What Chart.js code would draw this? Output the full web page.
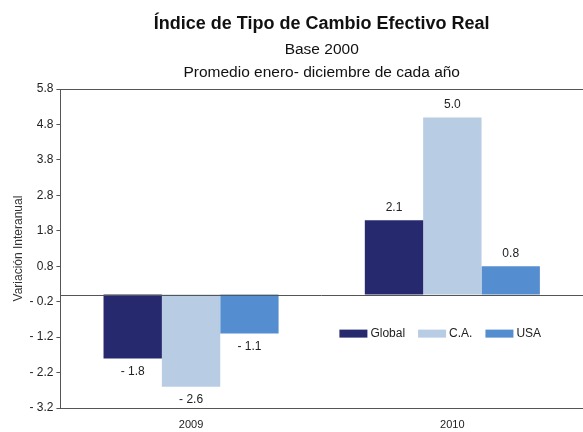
<!DOCTYPE html>
<html>
<head>
  <title>Indice de Tipo de Cambio Efectivo Real</title>
  <script src="https://cdn.jsdelivr.net/npm/chart.js@4.4.0/dist/chart.umd.min.js"></script>
  <style>
    body { margin: 0; background: #fff; }
    .chart-container { position: relative; width: 583px; height: 432px; }
  </style>
</head>
<body>
  <div class="chart-container">
    <canvas id="chart" width="583" height="432"></canvas>
  </div>

  <script>
    // Data
    var years = ["2009", "2010"];
    var globalVals = [-1.8, 2.1];
    var caVals = [-2.6, 5.0];
    var usaVals = [-1.1, 0.8];
    var yTicks = [-3.2, -2.2, -1.2, -0.2, 0.8, 1.8, 2.8, 3.8, 4.8, 5.8];

    var textColor = "#222";
    var lineColor = "#555";

    function fmt(v) {
      var s = v.toFixed(1);
      return v < 0 ? "- " + s.slice(1) : s;
    }

    // zero line across the plot
    var zeroLine = {
      id: "zeroLine",
      afterDatasetsDraw: function(chart) {
        var ctx = chart.ctx;
        var y = Math.round(chart.scales.y.getPixelForValue(0)) + 0.5;
        ctx.save();
        ctx.strokeStyle = lineColor;
        ctx.lineWidth = 1;
        ctx.beginPath();
        ctx.moveTo(chart.chartArea.left, y);
        ctx.lineTo(chart.chartArea.right, y);
        ctx.stroke();
        ctx.restore();
      }
    };

    // value labels above / below bars
    var valueLabels = {
      id: "valueLabels",
      afterDatasetsDraw: function(chart) {
        var ctx = chart.ctx;
        ctx.save();
        ctx.font = "12px 'Liberation Sans', Arial, sans-serif";
        ctx.fillStyle = textColor;
        ctx.textAlign = "center";
        ctx.textBaseline = "middle";
        chart.data.datasets.forEach(function(ds, i) {
          chart.getDatasetMeta(i).data.forEach(function(bar, j) {
            var v = ds.data[j];
            var y = v >= 0 ? bar.y - 13 : bar.y + 13;
            ctx.fillText(fmt(v), bar.x, y);
          });
        });
        ctx.restore();
      }
    };

    // legend drawn inside the plot area
    var innerLegend = {
      id: "innerLegend",
      afterDraw: function(chart) {
        var ctx = chart.ctx;
        var x = chart.chartArea.left + 279;
        var y = chart.scales.y.getPixelForValue(0) + 39;
        ctx.save();
        ctx.font = "12px 'Liberation Sans', Arial, sans-serif";
        ctx.textBaseline = "middle";
        chart.data.datasets.forEach(function(ds) {
          ctx.fillStyle = ds.backgroundColor;
          ctx.fillRect(x, y - 4, 28, 8);
          ctx.fillStyle = textColor;
          ctx.fillText(ds.label, x + 31, y);
          x += 31 + ctx.measureText(ds.label).width + 13;
        });
        ctx.restore();
      }
    };

    var ctx = document.getElementById("chart").getContext("2d");
    var chart = new Chart(ctx, {
      type: "bar",
      data: {
        labels: years,
        datasets: [
          { label: "Global", data: globalVals, backgroundColor: "#27296F" },
          { label: "C.A.", data: caVals, backgroundColor: "#B8CCE4" },
          { label: "USA", data: usaVals, backgroundColor: "#558ED0" }
        ]
      },
      options: {
        responsive: false,
        animation: false,
        maintainAspectRatio: false,
        devicePixelRatio: 1,
        layout: { padding: { left: 11, right: 0, top: 13, bottom: 0 } },
        datasets: {
          bar: { categoryPercentage: 0.67, barPercentage: 1.0 }
        },
        plugins: {
          legend: { display: false },
          tooltip: { enabled: false },
          title: {
            display: true,
            fullSize: false,
            text: "Índice de Tipo de Cambio Efectivo Real",
            color: "#111",
            font: { family: "'Liberation Sans', Arial", size: 18, weight: "bold", lineHeight: 1.2 },
            padding: { top: 0, bottom: 0 }
          },
          subtitle: {
            display: true,
            fullSize: false,
            text: ["Base 2000", "Promedio enero- diciembre de cada año"],
            color: "#111",
            font: { family: "'Liberation Sans', Arial", size: 15.5, lineHeight: 1.5 },
            padding: { top: 3, bottom: 5 }
          }
        },
        scales: {
          x: {
            grid: { display: false },
            border: { display: true, color: lineColor, width: 1 },
            ticks: { color: textColor, font: { family: "'Liberation Sans', Arial", size: 11 }, padding: 2 },
            afterFit: function(axis) { axis.height = 24; }
          },
          y: {
            min: -3.2,
            max: 5.8,
            afterBuildTicks: function(axis) {
              axis.ticks = yTicks.map(function(v) { return { value: v }; });
            },
            grid: {
              drawOnChartArea: true,
              tickLength: 4,
              tickColor: lineColor,
              color: function(c) {
                return c.tick && c.tick.value === 5.8 ? lineColor : "rgba(0,0,0,0)";
              }
            },
            border: { display: true, color: lineColor, width: 1 },
            ticks: {
              color: textColor,
              font: { family: "'Liberation Sans', Arial", size: 12 },
              padding: 3,
              callback: function(v) { return fmt(v); }
            },
            title: {
              display: true,
              text: "Variación Interanual",
              color: "#333",
              font: { family: "'Liberation Sans', Arial", size: 12 },
              padding: { top: 0, bottom: 1 }
            }
          }
        }
      },
      plugins: [zeroLine, valueLabels, innerLegend]
    });
  </script>
</body>
</html>
